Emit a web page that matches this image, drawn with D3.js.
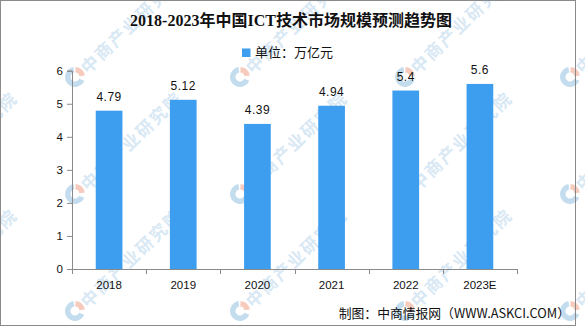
<!DOCTYPE html>
<html>
<head>
<meta charset="utf-8">
<script src="https://cdn.jsdelivr.net/npm/d3@7/dist/d3.min.js"></script>
<style>
  html, body { margin: 0; padding: 0; background: #fff; }
  svg { display: block; }
</style>
</head>
<body>
<svg id="chart" width="585" height="327"></svg>
<script>
// ICT market size in China, 2018-2023 (2023 is an estimate), unit: trillion yuan
const years = ["2018", "2019", "2020", "2021", "2022", "2023E"];
const values = [4.79, 5.12, 4.39, 4.94, 5.4, 5.6];
const yTicks = [0, 1, 2, 3, 4, 5, 6];
const labels = ["4.79", "5.12", "4.39", "4.94", "5.4", "5.6"];

const titleText = "2018-2023年中国ICT技术市场规模预测趋势图";
const legendText = "单位：万亿元";
const sourceText = "制图：中商情报网（WWW.ASKCI.COM）";
const markText = "中商产业研究院";

const W = 585, H = 327;
const plot = { left: 72, right: 517, top: 70.7, bottom: 269 };
const barColor = "#3d9ef0";
const axisColor = "#8a8a8a";

const svg = d3.select("#chart");

// Background watermark tiles (logo + organisation name, set diagonally)
const wm = svg.append("g").attr("class", "watermark");
const gx = d3.range(-1, 4).map(i => 75 + 165 * i);
const gy = d3.range(0, 3).map(j => 77 + 117 * j);
gx.forEach(x => gy.forEach(y => {
  const g = wm.append("g").attr("transform", `translate(${x},${y})`);
  const arc = d3.arc();
  g.append("path")
    .attr("d", arc({ innerRadius: 4.5, outerRadius: 10, startAngle: Math.PI * 0.62, endAngle: Math.PI * 1.95 }))
    .attr("fill", "#c4ddee");
  g.append("path")
    .attr("d", arc({ innerRadius: 4.5, outerRadius: 10, startAngle: Math.PI * 0.02, endAngle: Math.PI * 0.45 }))
    .attr("fill", "#f6cbbd");
  g.append("text")
    .attr("transform", "rotate(-44)")
    .attr("x", 11)
    .attr("y", 0)
    .attr("dominant-baseline", "central")
    .attr("font-family", "'Noto Sans CJK SC', sans-serif")
    .attr("font-weight", "bold")
    .attr("font-size", 17)
    .attr("letter-spacing", 2)
    .attr("fill", "#d8e8f4")
    .text(markText);
}));

// Outer frame
svg.append("rect")
  .attr("x", 0.5).attr("y", 0.5)
  .attr("width", 575).attr("height", 325)
  .attr("fill", "none")
  .attr("stroke", axisColor)
  .attr("stroke-width", 1);

// Title
svg.append("text")
  .attr("x", 291).attr("y", 26)
  .attr("text-anchor", "middle")
  .attr("font-family", "'Liberation Serif', 'Noto Sans CJK SC', serif")
  .attr("font-weight", "bold")
  .attr("font-size", 16)
  .attr("fill", "#111")
  .text(titleText);

// Legend
svg.append("rect")
  .attr("x", 242).attr("y", 48.5)
  .attr("width", 8.5).attr("height", 8.5)
  .attr("fill", barColor);
svg.append("text")
  .attr("x", 255).attr("y", 57)
  .attr("font-family", "'Noto Sans CJK SC', sans-serif")
  .attr("font-size", 13)
  .attr("fill", "#111")
  .text(legendText);

// Scales
const x = d3.scaleBand()
  .domain(years)
  .range([plot.left, plot.right])
  .paddingInner(0.64)
  .paddingOuter(0.32);
const y = d3.scaleLinear()
  .domain([0, 6])
  .range([plot.bottom, plot.top]);

// Bars
svg.append("g").selectAll("rect")
  .data(years)
  .join("rect")
  .attr("x", d => x(d))
  .attr("y", (d, i) => y(values[i]))
  .attr("width", x.bandwidth())
  .attr("height", (d, i) => y(0) - y(values[i]))
  .attr("fill", barColor);

// Value labels
svg.append("g").selectAll("text")
  .data(years)
  .join("text")
  .attr("x", d => x(d) + x.bandwidth() / 2)
  .attr("y", (d, i) => y(values[i]) - 9.5)
  .attr("text-anchor", "middle")
  .attr("font-family", "'Liberation Sans', sans-serif")
  .attr("font-size", 12)
  .attr("letter-spacing", 0.5)
  .attr("fill", "#111")
  .text((d, i) => labels[i]);

// Y axis
const yAxis = svg.append("g")
  .attr("transform", `translate(${plot.left},0)`)
  .call(d3.axisLeft(y).tickValues(yTicks).tickSize(5).tickPadding(4).tickFormat(d3.format("d")));
yAxis.select(".domain").attr("stroke", axisColor);
yAxis.selectAll(".tick line").attr("stroke", axisColor);
yAxis.selectAll(".tick text")
  .attr("font-family", "'Liberation Sans', sans-serif")
  .attr("font-size", 11.5)
  .attr("fill", "#111");

// X axis: baseline, boundary ticks between categories, centred labels
const xb = d3.scaleLinear().domain([0, years.length]).range([plot.left, plot.right]);
const xAxis = svg.append("g");
xAxis.append("line")
  .attr("x1", plot.left).attr("x2", plot.right)
  .attr("y1", plot.bottom + 0.5).attr("y2", plot.bottom + 0.5)
  .attr("stroke", axisColor);
xAxis.selectAll("line.tk")
  .data(d3.range(years.length + 1))
  .join("line")
  .attr("class", "tk")
  .attr("x1", d => Math.round(xb(d)) + 0.5).attr("x2", d => Math.round(xb(d)) + 0.5)
  .attr("y1", plot.bottom).attr("y2", plot.bottom + 5)
  .attr("stroke", axisColor);
xAxis.selectAll("text")
  .data(years)
  .join("text")
  .attr("x", d => x(d) + x.bandwidth() / 2)
  .attr("y", 289)
  .attr("text-anchor", "middle")
  .attr("font-family", "'Liberation Sans', sans-serif")
  .attr("font-size", 11.5)
  .attr("fill", "#111")
  .text(d => d);

// Source note
svg.append("text")
  .attr("x", 570).attr("y", 318)
  .attr("text-anchor", "end")
  .attr("font-family", "'Noto Sans CJK SC', sans-serif")
  .attr("font-size", 12.8)
  .attr("fill", "#111")
  .text(sourceText);
</script>
</body>
</html>
